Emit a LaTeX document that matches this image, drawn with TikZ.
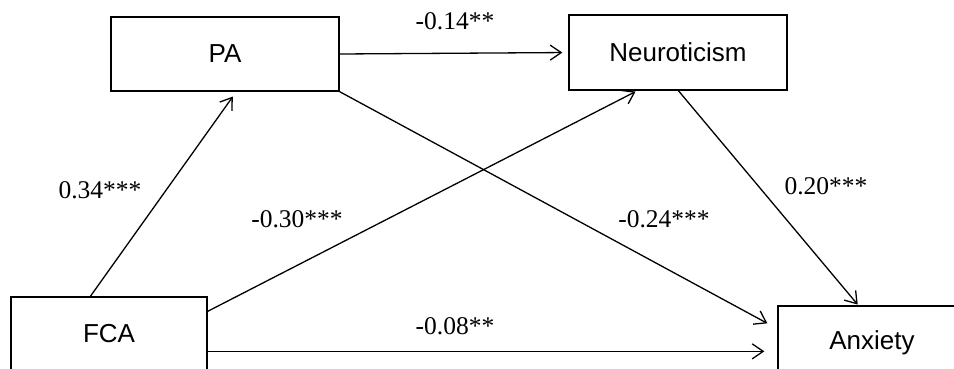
\documentclass[tikz,border=0pt]{standalone}
\usepackage{fontspec}
\setmainfont{Liberation Serif}
\newfontfamily\arialf{Liberation Sans}
\usetikzlibrary{arrows.meta,calc}
\begin{document}
\begin{tikzpicture}[x=1pt,y=-1pt,
  box/.style={draw,line width=1.3pt,rectangle,inner sep=0pt,font=\arialf\fontsize{26}{30}\selectfont},
  conn/.style={line width=1.3pt,-{Straight Barb[length=11pt,width=15pt,line width=1.3pt]}},
  lab/.style={font=\fontsize{25.5}{30}\selectfont,inner sep=0pt}]
\useasboundingbox (0,0) rectangle (954,368);
\clip (0,0) rectangle (954,368);
\node[box,minimum width=228pt,minimum height=74pt] (PA) at (225,54) {PA};
\node[box,minimum width=218pt,minimum height=75pt] (Neu) at (678,52.5) {Neuroticism};
\node[box,minimum width=196pt,minimum height=74pt] (FCA) at (109,334) {FCA};
\node[box,minimum width=188pt,minimum height=74pt] (Anx) at (872,343) {Anxiety};
% connectors
\draw[conn,shorten >=6pt] (PA.east) -- (Neu.west);
\draw[conn,shorten >=6pt] ($(FCA.north west)+(80,0)$) -- ($(PA.south west)+(126,0)$);
\draw[conn,shorten >=2pt] ($(FCA.north east)+(0,15)$) -- ($(Neu.south west)+(69,0)$);
\draw[conn] (PA.south east) -- ($(Anx.north west)+(-10,18)$);
\draw[conn,shorten >=1pt] ($(Neu.south west)+(110,0)$) -- ($(Anx.north west)+(81,0)$);
\draw[conn,shorten >=13pt] ($(FCA.north east)+(0,55)$) -- ($(Anx.north west)+(0,46)$);
% labels
\node[lab] (l1) at (455,21) {-0.14**};
\node[lab] (l2) at (100,190) {0.34***};
\node[lab] (l3) at (297,219) {-0.30***};
\node[lab] (l4) at (664,219) {-0.24***};
\node[lab] (l5) at (826,186) {0.20***};
\node[lab] (l6) at (455,326) {-0.08**};
\end{tikzpicture}
\end{document}
